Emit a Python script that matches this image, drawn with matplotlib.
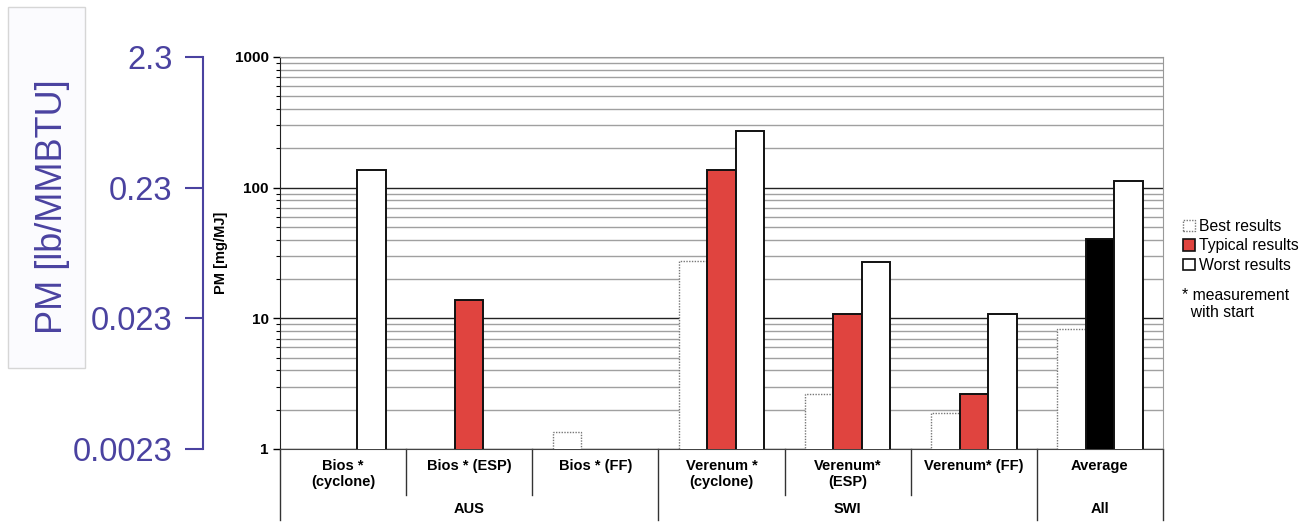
import numpy as np
import matplotlib
matplotlib.use("Agg")
import matplotlib.pyplot as plt
from matplotlib.patches import Rectangle, Patch
from matplotlib.ticker import LogLocator, NullFormatter, FixedLocator, FixedFormatter
from matplotlib.transforms import blended_transform_factory

plt.rcParams['font.family'] = ['Liberation Sans', 'DejaVu Sans']

categories = ["Bios *\n(cyclone)", "Bios * (ESP)", "Bios * (FF)",
              "Verenum *\n(cyclone)", "Verenum*\n(ESP)", "Verenum* (FF)", "Average"]
regions = ["AUS", "SWI", "All"]
region_spans = [(0, 3), (3, 6), (6, 7)]
best = [np.nan, np.nan, 1.35, 27.5, 2.65, 1.88, 8.3]
typical = [np.nan, 13.8, np.nan, 136, 10.8, 2.63, 40.5]
worst = [136, np.nan, np.nan, 271, 27.0, 10.8, 112]
series_labels = ["Best results", "Typical results", "Worst results"]
lb_ticks = [0.0023, 0.023, 0.23, 2.3]
lb_ticklabels = ["0.0023", "0.023", "0.23", "2.3"]

W, H = 1303, 523
fig = plt.figure(figsize=(W / 100, H / 100), dpi=100)

ax_l, ax_r, ax_t, ax_b = 280, 1163, 57, 449
ax = fig.add_axes([ax_l / W, (H - ax_b) / H, (ax_r - ax_l) / W, (ax_b - ax_t) / H])
ax.set_yscale('log')
ax.set_ylim(1, 1000)
ax.set_xlim(-0.5, len(categories) - 0.5)

x = np.arange(len(categories))
bw = 0.226
red = '#e0443f'
typ_colors = [red] * (len(categories) - 1) + ['#000000']
b1 = ax.bar(x - bw, best, bw, color='white', edgecolor='#777777', linestyle=(0, (1, 1)),
            linewidth=1.0, zorder=3)
b2 = ax.bar(x, typical, bw, color=typ_colors, edgecolor='#111111', linewidth=1.4, zorder=3)
b3 = ax.bar(x + bw, worst, bw, color='white', edgecolor='#111111', linewidth=1.4, zorder=3)

# gridlines
ax.yaxis.set_major_locator(LogLocator(base=10, numticks=10))
ax.yaxis.set_minor_locator(LogLocator(base=10, subs=np.arange(2, 10), numticks=20))
ax.yaxis.set_minor_formatter(NullFormatter())
ax.set_yticks([1, 10, 100, 1000])
ax.set_yticklabels(["1", "10", "100", "1000"], fontsize=11, fontweight='bold')
ax.grid(True, which='major', axis='y', color='#222222', linewidth=1.0, zorder=0)
ax.grid(True, which='minor', axis='y', color='#a0a0a0', linewidth=1.0, zorder=0)
ax.set_axisbelow(True)
ax.tick_params(axis='y', which='major', direction='out', length=5, width=1, pad=3)
ax.tick_params(axis='y', which='minor', direction='out', length=3, width=0.8)
ax.set_xticks([])
for s in ['top', 'right']:
    ax.spines[s].set_color('#999999')
ax.spines['left'].set_color('#222222')
ax.spines['bottom'].set_color('#444444')
ax.set_ylabel("PM [mg/MJ]", fontsize=10.5, fontweight='bold', labelpad=5)

# category axis
tr = blended_transform_factory(ax.transData, ax.transAxes)
ah = ax_b - ax_t
for i, c in enumerate(categories):
    ax.text(i, -10 / ah, c, transform=tr, ha='center', va='top', fontsize=10.5,
            fontweight='bold', linespacing=1.2)
region_bounds = sorted(set([a for a, b in region_spans] + [b for a, b in region_spans]))
for i in range(len(categories) + 1):
    xb = i - 0.5
    depth = -71 / ah if i in region_bounds else -46 / ah
    ax.plot([xb, xb], [0, depth], transform=tr, color='#333333', linewidth=1.0, clip_on=False)
for r, (a, b) in zip(regions, region_spans):
    ax.text((a + b) / 2 - 0.5, -60 / ah, r, transform=tr, ha='center', va='center',
            fontsize=10.5, fontweight='bold')

# legend
handles = [Patch(facecolor='white', edgecolor='#777777', linestyle=(0, (1, 1)), linewidth=1.0),
           Patch(facecolor=red, edgecolor='#111111', linewidth=1.2),
           Patch(facecolor='white', edgecolor='#111111', linewidth=1.2)]
fig.legend(handles, series_labels, loc='upper left',
           bbox_to_anchor=(1172 / W, (H - 208) / H), frameon=False, fontsize=11.3,
           handlelength=0.75, handleheight=0.75, handletextpad=0.25, labelspacing=0.28,
           borderpad=0.2)
fig.text(1182 / W, (H - 304) / H, "* measurement\n  with start", fontsize=11.3,
         ha='left', va='center', linespacing=1.2)

# secondary lb/MMBTU axis
blue = '#4a42a0'
ax2 = fig.add_axes([203 / W, (H - ax_b) / H, 0.0001, (ax_b - ax_t) / H])
ax2.set_yscale('log')
ax2.set_ylim(lb_ticks[0], lb_ticks[-1])
ax2.set_xticks([])
for s in ['top', 'right', 'bottom']:
    ax2.spines[s].set_visible(False)
ax2.spines['left'].set_color(blue)
ax2.spines['left'].set_linewidth(1.5)
ax2.patch.set_visible(False)
ax2.yaxis.set_major_locator(FixedLocator(lb_ticks))
ax2.yaxis.set_major_formatter(FixedFormatter(lb_ticklabels))
ax2.yaxis.set_minor_locator(FixedLocator([]))
ax2.tick_params(axis='y', direction='out', length=13, width=1.5, color=blue,
                labelcolor=blue, labelsize=23.5, pad=9)

# boxed title
fig.patches.append(Rectangle((8 / W, (H - 368) / H), 77 / W, 361 / H, transform=fig.transFigure,
                             facecolor='#fbfbfe', edgecolor='#d6d6d6', linewidth=1.0))
fig.text(52 / W, (H - 207) / H, "PM [lb/MMBTU]", rotation=90, fontsize=26, color=blue,
         ha='center', va='center')

fig.savefig("out.png", dpi=100)
